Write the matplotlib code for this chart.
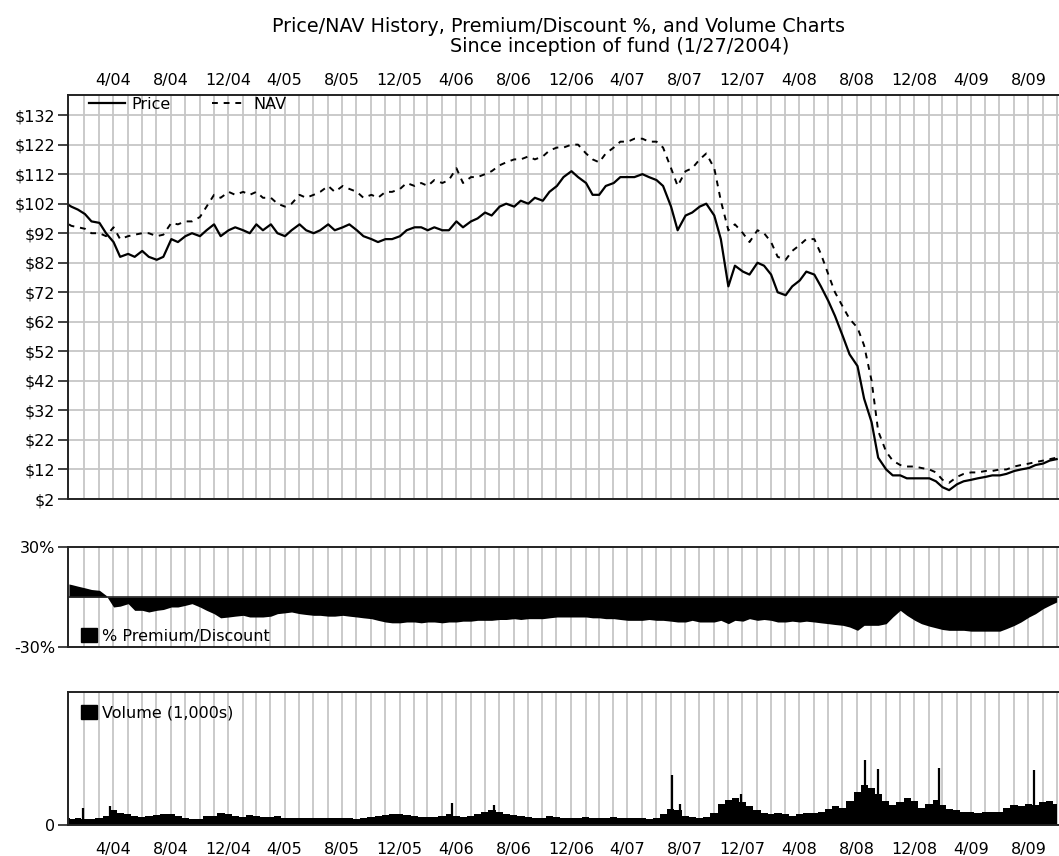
import numpy as np
import pandas as pd
import matplotlib
matplotlib.use('Agg')
import matplotlib.pyplot as plt
from matplotlib.patches import Patch

# sample dates: inception, then 1st/15th of each month, then last close
dates = pd.DatetimeIndex([pd.Timestamp('2004-01-27')]
                         + list(pd.date_range('2004-02-01', '2009-10-15', freq='SMS'))
                         + [pd.Timestamp('2009-10-30')])

price = [101.5, 101, 100, 98.5, 96, 95.5, 92, 89, 84, 85, 84, 86, 84, 83, 84, 90, 89, 91, 92, 91, 93, 95, 91,
         93, 94, 93, 92, 95, 93, 95, 92, 91, 93, 95, 93, 92, 93, 95, 93, 94, 95, 93, 91, 90, 89, 90, 90,
         91, 93, 94, 94, 93, 94, 93, 93, 96, 94, 96, 97, 99, 98, 101, 102, 101, 103, 102, 104, 103, 106, 108, 111,
         113, 111, 109, 105, 105, 108, 109, 111, 111, 111, 112, 111, 110, 108, 101, 93, 98, 99, 101, 102, 98, 90, 74, 81,
         79, 78, 82, 81, 78, 72, 71, 74, 76, 79, 78, 74, 69, 64, 57, 51, 47, 36, 28, 16, 12, 10, 10, 9,
         9, 9, 9, 8, 6, 5, 7, 8, 8.5, 9, 9.5, 10, 10, 10.5, 11.5, 12, 12.5, 13.5, 14, 15, 15.5]

nav = [95, 94.5, 94, 93.5, 92, 92, 91, 94, 90, 91, 91.5, 92, 92, 91, 91.5, 95.5, 95, 96, 96, 97.5, 101, 105, 104,
       106, 105, 106, 105, 106, 104, 104, 102, 101, 102, 105, 104, 105, 106, 108, 106, 108, 107, 106, 104, 105, 104, 106, 106,
       107, 109, 108, 109, 108, 110, 109, 110, 114, 109, 111, 111, 112, 113, 115, 116, 117, 117, 118, 117, 118, 120, 121, 121,
       122, 122, 119, 117, 116, 119, 121, 123, 123, 124, 124, 123, 123, 121, 114, 108, 113, 114, 117, 119, 114, 103, 93, 95,
       92, 89, 93, 92, 89, 84, 83, 86, 88, 90, 90, 85, 78, 72, 67, 63, 60, 54, 42, 25, 18, 15, 13.5, 13,
       13, 12.5, 12, 11, 8.5, 7.5, 9.5, 10.5, 11, 11, 11.5, 11.5, 12, 12, 13, 13.5, 14, 14.5, 15, 15.5, 16]

prem = [7.8, 7.5, 6.5, 5.5, 4.5, 4, 1, -6, -5.5, -4, -8, -8, -9, -8, -7.5, -6, -6, -5, -4, -6, -8, -10, -12.5,
        -12, -11.5, -11, -12, -12, -12, -11.5, -10, -9.5, -9, -10, -10.5, -11, -11, -11.5, -11.5, -11, -11.5, -12, -12.5, -13, -14, -15, -15.5,
        -15.5, -15, -15, -15.5, -15, -15, -15.5, -15, -15, -14.5, -14.5, -14, -14, -14, -13.5, -13.5, -13, -13.5, -13, -13, -13, -12.5, -12, -12,
        -12, -12, -12, -12.5, -12.5, -13, -13, -13.5, -14, -14, -14, -13.5, -14, -14, -14.5, -15, -15, -14, -15, -15, -15, -14, -16, -14,
        -14.5, -13, -14, -13.5, -14, -15, -15, -14.5, -15, -14.5, -15, -15.5, -16, -16.5, -17, -18, -20, -17, -17, -17, -16, -12, -8, -11,
        -14, -16, -17.5, -18.5, -19.5, -20, -20, -20, -20.5, -20.5, -20.5, -20.5, -20.5, -19, -17, -15, -12, -10, -7, -5, -3]

volume = [50, 45, 50, 45, 45, 50, 70, 110, 90, 80, 70, 60, 65, 75, 85, 80, 70, 55, 45, 45, 65, 70, 90,
          85, 70, 60, 75, 70, 60, 60, 70, 55, 50, 55, 55, 50, 50, 55, 50, 55, 50, 45, 55, 60, 65, 75, 80,
          80, 75, 65, 60, 60, 60, 70, 80, 65, 60, 70, 85, 100, 115, 100, 85, 75, 65, 60, 55, 55, 65, 60, 55,
          50, 55, 60, 55, 50, 55, 60, 55, 55, 50, 50, 45, 50, 80, 120, 110, 70, 60, 55, 60, 90, 160, 190, 200,
          170, 140, 110, 90, 80, 90, 80, 70, 80, 90, 90, 100, 120, 140, 130, 180, 250, 300, 280, 230, 180, 150, 170, 200,
          180, 130, 160, 190, 150, 120, 110, 100, 100, 90, 100, 95, 100, 130, 150, 140, 160, 150, 170, 180, 160]

# single-day volume spikes
spike_dates = pd.to_datetime(['2004-02-25', '2004-04-24', '2006-04-21', '2006-07-21', '2007-08-03',
                              '2007-08-21', '2007-12-27', '2008-09-17', '2008-10-15', '2009-02-21', '2009-09-11'])
spike_vols = [128, 140, 165, 150, 375, 160, 230, 490, 420, 430, 410]

price_ticks = [2, 12, 22, 32, 42, 52, 62, 72, 82, 92, 102, 112, 122, 132]

try:
    month_ends = pd.date_range('2004-02-29', '2009-10-31', freq='ME')
except ValueError:
    month_ends = pd.date_range('2004-02-29', '2009-10-31', freq='M')
month_labels = [f'{d.month}/{d.year % 100:02d}' if d.month in (4, 8, 12) else '' for d in month_ends]

plt.rcParams['font.family'] = 'DejaVu Sans'
plt.rcParams['font.size'] = 11.5

W, H = 1059, 856
fig = plt.figure(figsize=(W / 100, H / 100), dpi=100)


def box(x0, y0, x1, y1):
    return [x0 / W, 1 - y1 / H, (x1 - x0) / W, (y1 - y0) / H]


ax1 = fig.add_axes(box(68, 95, 1059, 499))
ax2 = fig.add_axes(box(68, 547, 1059, 647))
ax3 = fig.add_axes(box(68, 692, 1059, 825))

xmin, xmax = pd.Timestamp('2004-01-25'), pd.Timestamp('2009-11-04')
grid_col = '#c6c6c6'

for ax in (ax1, ax2, ax3):
    ax.set_xlim(xmin, xmax)
    ax.set_xticks(month_ends)
    ax.set_xticklabels([])
    ax.tick_params(axis='x', length=0)
    ax.grid(axis='x', color=grid_col, linewidth=1.3)
    ax.set_axisbelow(True)
    for s in ax.spines.values():
        s.set_color('#222222')
        s.set_linewidth(1.4)
    ax.spines['right'].set_visible(False)
    ax.tick_params(axis='y', length=7, width=1.2, color='#222222', pad=2)

# price / NAV
ax1.plot(dates, price, color='black', linewidth=1.6, label='Price')
ax1.plot(dates, nav, color='black', linewidth=1.4, linestyle=(0, (3, 3)), label='NAV')
ax1.set_ylim(2, 138.8)
ax1.set_yticks(price_ticks)
ax1.set_yticklabels([f'${v}' for v in price_ticks])
ax1.grid(axis='y', color=grid_col, linewidth=1.3)
ax1.xaxis.set_ticks_position('top')
ax1.set_xticklabels(month_labels)
ax1.tick_params(axis='x', pad=5)
ax1.legend(loc='upper left', bbox_to_anchor=(0.012, 1.02), ncol=2, frameon=False,
           handlelength=2.2, handletextpad=0.4, columnspacing=2.6, borderaxespad=0.2)

# premium / discount
ax2.fill_between(dates, prem, 0, color='black', linewidth=0)
ax2.axhline(0, color='#222222', linewidth=1.2)
ax2.set_ylim(-30, 30)
ax2.set_yticks([-30, 30])
ax2.set_yticklabels(['-30%', '30%'])
ax2.legend(handles=[Patch(color='black', label='% Premium/Discount')], loc='lower left',
           bbox_to_anchor=(-0.001, -0.11), frameon=False, handlelength=1.0, handleheight=1.0,
           handletextpad=0.3)

# volume
ax3.fill_between(dates, volume, 0, step='mid', color='black', linewidth=0)
ax3.vlines(spike_dates, 0, spike_vols, color='black', linewidth=1.6)
ax3.set_ylim(0, 1000)
ax3.set_yticks([0])
ax3.xaxis.set_ticks_position('bottom')
ax3.set_xticklabels(month_labels)
ax3.tick_params(axis='x', pad=12)
ax3.legend(handles=[Patch(color='black', label='Volume (1,000s)')], loc='upper left',
           bbox_to_anchor=(-0.001, 1.01), frameon=False, handlelength=1.0, handleheight=1.0,
           handletextpad=0.3)

fig.text(558 / W, 1 - 27 / H, 'Price/NAV History, Premium/Discount %, and Volume Charts',
         ha='center', va='center', fontsize=13.8)
fig.text(620 / W, 1 - 47 / H, 'Since inception of fund (1/27/2004)',
         ha='center', va='center', fontsize=13.8)

fig.savefig('out.png', dpi=100)
